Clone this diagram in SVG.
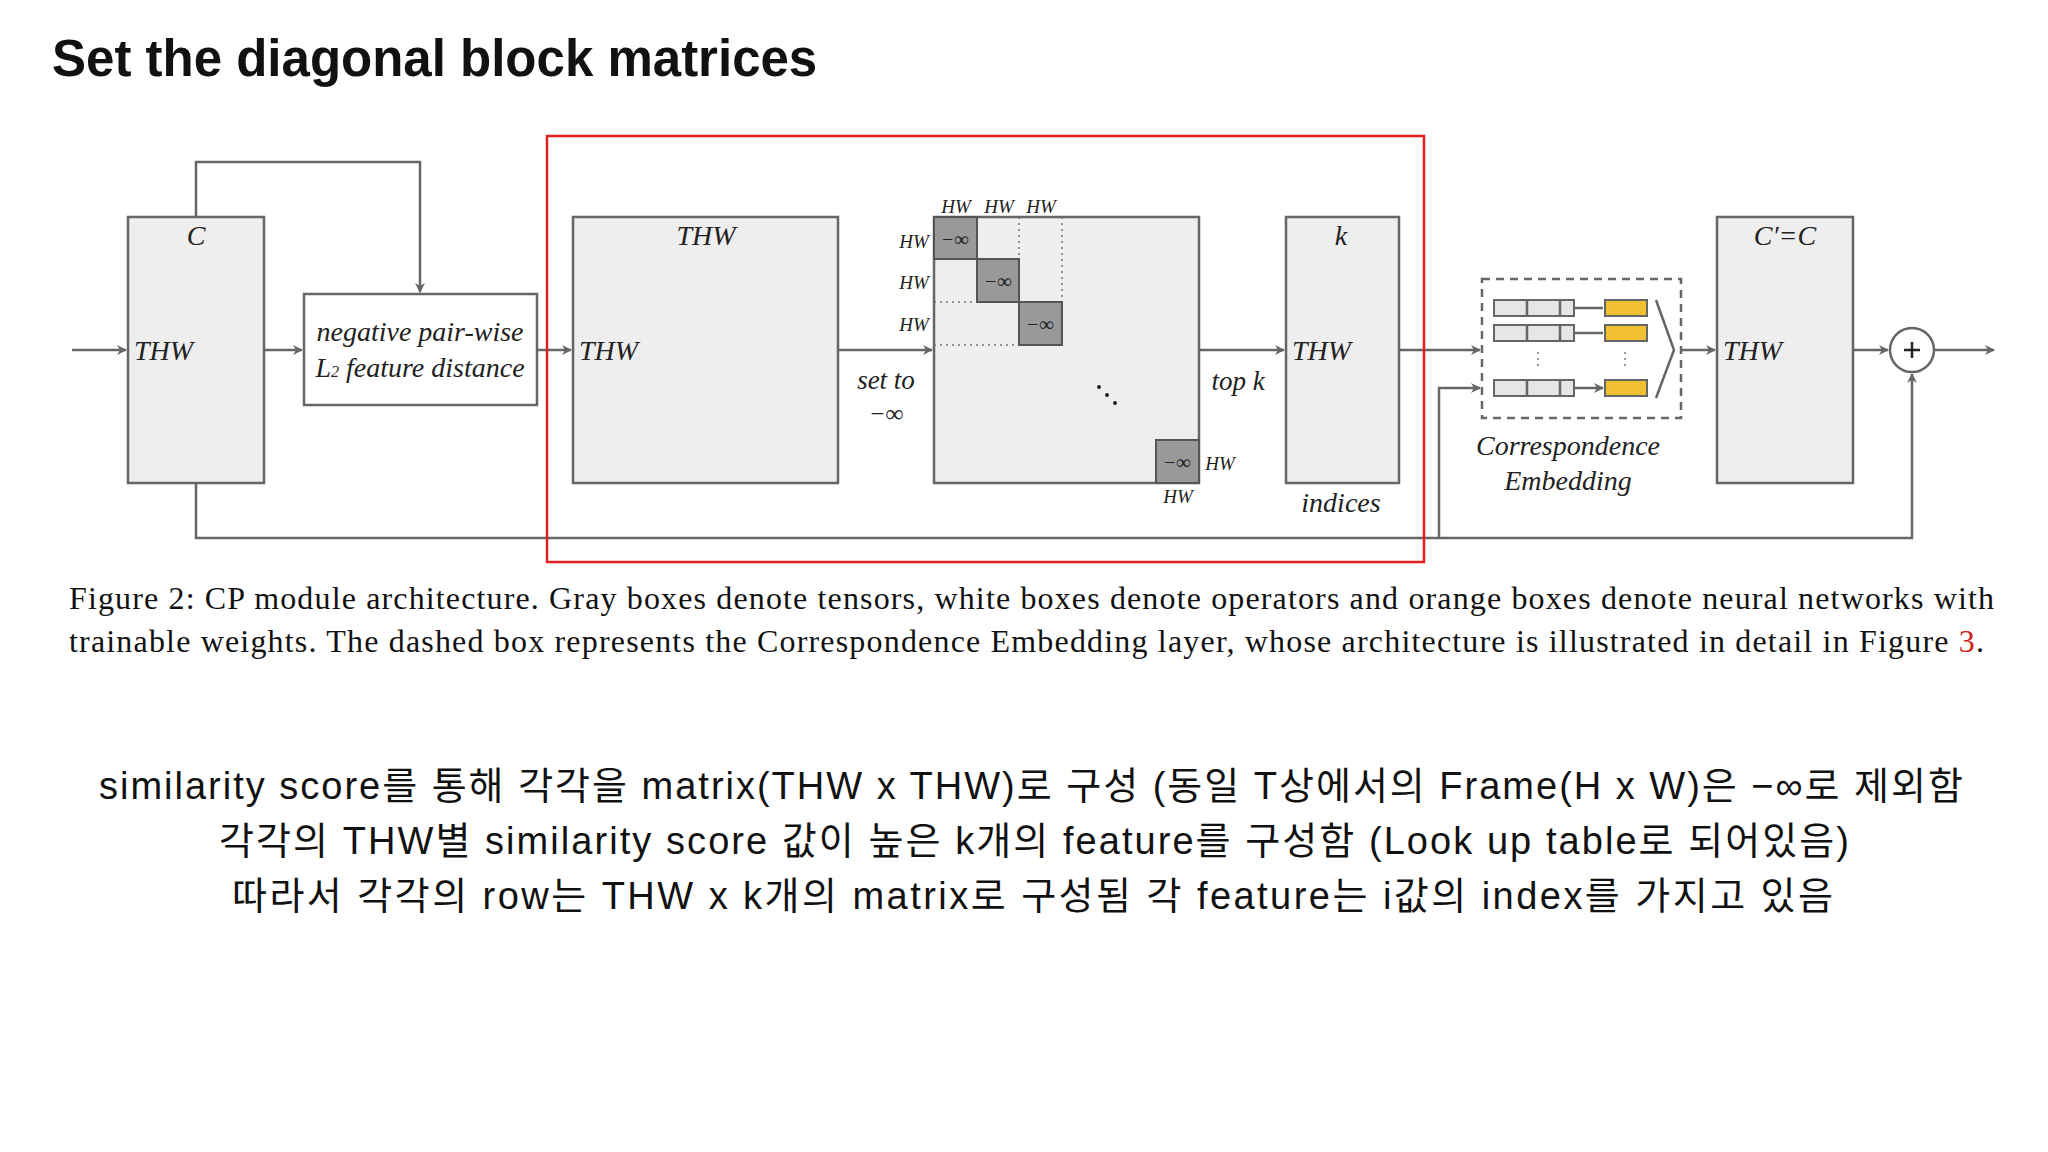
<svg xmlns="http://www.w3.org/2000/svg" width="2048" height="1152" viewBox="0 0 2048 1152">
<defs>
<style>
.t{fill:#eeeeee;stroke:#666;stroke-width:2.5}
.l{fill:none;stroke:#666;stroke-width:2.5}
.it{font-family:"Liberation Serif","Times New Roman",serif;font-style:italic;fill:#222}
.cap{font-family:"Liberation Serif","Times New Roman",serif;font-size:32px;fill:#111}
.kr{font-family:"Liberation Sans","Noto Sans CJK KR",sans-serif;font-size:38px;fill:#111}
.dot{stroke:#777;stroke-width:1.5;stroke-dasharray:2 4;fill:none}
.blk{fill:#999;stroke:#555;stroke-width:2}
.cell{fill:#e6e6e6;stroke:#666;stroke-width:2}
.y{fill:#f0c030;stroke:#666;stroke-width:2}
</style>
<marker id="a" markerWidth="10" markerHeight="10" refX="9" refY="5" orient="auto" markerUnits="userSpaceOnUse"><path d="M0,0 L10,5 L0,10 L3,5 z" fill="#666"/></marker>
</defs>
<rect width="2048" height="1152" fill="#fff"/>
<text x="52" y="76" font-family="Liberation Sans,sans-serif" font-weight="bold" font-size="51" fill="#111">Set the diagonal block matrices</text>
<g id="connectors">
<path class="l" d="M72,350 H126" marker-end="url(#a)"/>
<path class="l" d="M196,217 V162 H420 V292" marker-end="url(#a)"/>
<path class="l" d="M264,350 H302" marker-end="url(#a)"/>
<path class="l" d="M537,350 H571" marker-end="url(#a)"/>
<path class="l" d="M838,350 H932" marker-end="url(#a)"/>
<path class="l" d="M1199,350 H1284" marker-end="url(#a)"/>
<path class="l" d="M1399,350 H1480" marker-end="url(#a)"/>
<path class="l" d="M1681,350 H1715" marker-end="url(#a)"/>
<path class="l" d="M1853,350 H1888" marker-end="url(#a)"/>
<path class="l" d="M1934,350 H1994" marker-end="url(#a)"/>
<path class="l" d="M196,483 V538 H1912 V374" marker-end="url(#a)"/>
<path class="l" d="M1439,538 V388 H1480" marker-end="url(#a)"/>
</g>
<g id="nodeC"><rect class="t" x="128" y="217" width="136" height="266"/><text class="it" x="196" y="245" font-size="28" text-anchor="middle">C</text><text class="it" x="134" y="360" font-size="28">THW</text></g>
<g id="neg"><rect x="304" y="294" width="233" height="111" fill="#fff" stroke="#666" stroke-width="2.5"/><text class="it" x="420" y="341" font-size="28" text-anchor="middle">negative pair-wise</text><text class="it" x="420" y="377" font-size="28" text-anchor="middle">L<tspan font-size="16">2</tspan>  feature distance</text></g>
<g id="thw"><rect class="t" x="573" y="217" width="265" height="266"/><text class="it" x="706" y="245" font-size="28" text-anchor="middle">THW</text><text class="it" x="579" y="360" font-size="28">THW</text></g>
<g id="matrix">
<rect class="t" x="934" y="217" width="265" height="266"/>
<path class="dot" d="M934,302 H977 M934,345 H1019 M1019,217 V259 M1062,217 V302"/>
<rect class="blk" x="934" y="217" width="43" height="42"/><rect class="blk" x="977" y="259" width="42" height="43"/><rect class="blk" x="1019" y="302" width="43" height="43"/><rect class="blk" x="1156" y="440" width="43" height="43"/>
<g class="it" font-size="20" text-anchor="middle"><text x="955" y="246">−∞</text><text x="998" y="288">−∞</text><text x="1040" y="331">−∞</text><text x="1177" y="469">−∞</text></g>
<g class="it" font-size="19" text-anchor="middle"><text x="956" y="213">HW</text><text x="999" y="213">HW</text><text x="1041" y="213">HW</text><text x="914" y="248">HW</text><text x="914" y="289">HW</text><text x="914" y="331">HW</text><text x="1220" y="470">HW</text><text x="1178" y="503">HW</text></g>
<g fill="#222"><circle cx="1099" cy="387" r="2"/><circle cx="1107" cy="395" r="2"/><circle cx="1115" cy="403" r="2"/></g>
<text class="it" x="886" y="389" font-size="27" text-anchor="middle">set to</text><text class="it" x="886" y="422" font-size="25" text-anchor="middle">−∞</text>
</g>
<g id="topk"><text class="it" x="1238" y="390" font-size="27" text-anchor="middle">top k</text>
<rect class="t" x="1286" y="217" width="113" height="266"/><text class="it" x="1341" y="245" font-size="28" text-anchor="middle">k</text><text class="it" x="1292" y="360" font-size="28">THW</text><text class="it" x="1341" y="512" font-size="28" text-anchor="middle">indices</text></g>
<g id="embed">
<rect x="1482" y="279" width="199" height="139" fill="none" stroke="#666" stroke-width="2.5" stroke-dasharray="8 6"/>
<rect class="cell" x="1494" y="300" width="80" height="16"/><path class="l" d="M1527,300 V316 M1560,300 V316"/>
<rect class="cell" x="1494" y="325" width="80" height="16"/><path class="l" d="M1527,325 V341 M1560,325 V341"/>
<rect class="cell" x="1494" y="380" width="80" height="16"/><path class="l" d="M1527,380 V396 M1560,380 V396"/>
<path class="l" d="M1574,308 H1603 M1574,333 H1603 M1574,388 H1603" stroke-width="2" marker-end="url(#a)"/>
<rect class="y" x="1605" y="300" width="42" height="16"/><rect class="y" x="1605" y="325" width="42" height="16"/><rect class="y" x="1605" y="380" width="42" height="16"/>
<path d="M1538,352 V366 M1625,352 V366" class="dot"/>
<path class="l" d="M1656,300 L1674,350 L1656,398" stroke-width="2"/>
<text class="it" x="1568" y="455" font-size="28" text-anchor="middle">Correspondence</text><text class="it" x="1568" y="490" font-size="28" text-anchor="middle">Embedding</text>
</g>
<g id="out"><rect class="t" x="1717" y="217" width="136" height="266"/><text class="it" x="1785" y="245" font-size="28" text-anchor="middle">C′=C</text><text class="it" x="1723" y="360" font-size="28">THW</text></g>
<g id="plus"><circle cx="1912" cy="350" r="22" fill="#fff" stroke="#666" stroke-width="2.5"/><path d="M1904,350 H1920 M1912,342 V358" stroke="#222" stroke-width="2.5"/></g>
<rect x="547" y="136" width="877" height="426" fill="none" stroke="#e02020" stroke-width="2.5"/>
<text class="cap" x="69" y="609" textLength="1925" lengthAdjust="spacing">Figure 2: CP module architecture. Gray boxes denote tensors, white boxes denote operators and orange boxes denote neural networks with</text>
<text class="cap" x="69" y="652" textLength="1915" lengthAdjust="spacing">trainable weights. The dashed box represents the Correspondence Embedding layer, whose architecture is illustrated in detail in Figure <tspan fill="#d02020">3</tspan>.</text>
<text class="kr" x="99" y="799" textLength="1864" lengthAdjust="spacing">similarity score를 통해 각각을 matrix(THW x THW)로 구성 (동일 T상에서의 Frame(H x W)은 −∞로 제외함</text>
<text class="kr" x="219" y="854" textLength="1630" lengthAdjust="spacing">각각의 THW별 similarity score 값이 높은 k개의 feature를 구성함 (Look up table로 되어있음)</text>
<text class="kr" x="232" y="909" textLength="1601" lengthAdjust="spacing">따라서 각각의 row는 THW x k개의 matrix로 구성됨 각 feature는 i값의 index를 가지고 있음</text>
</svg>
